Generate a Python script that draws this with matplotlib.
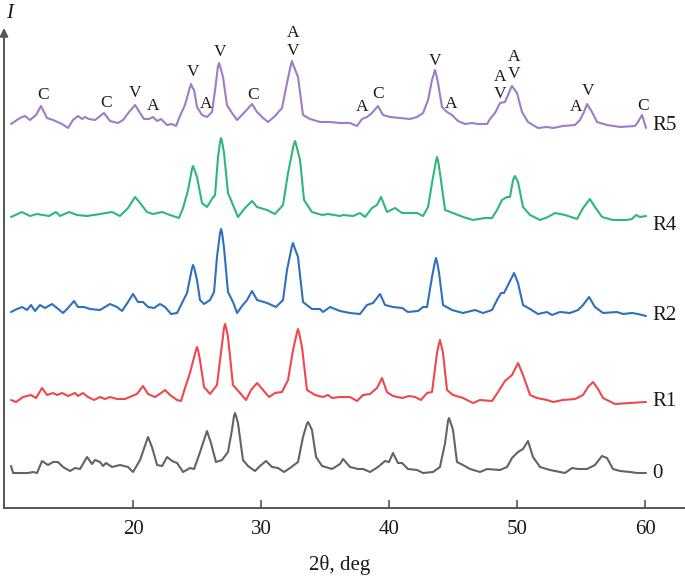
import matplotlib
matplotlib.use("Agg")
import matplotlib.pyplot as plt

# ---- data: 2theta (deg) and intensity (arb. units, offset stacks as drawn) ----
r5_x = [10.47,11.17,11.56,11.95,12.42,12.81,13.28,13.75,14.45,14.92,15.31,15.70,16.02,16.25,16.56,17.03,17.34,17.73,18.20,18.83,
        19.22,19.69,20.16,20.55,20.86,21.25,21.56,21.88,22.19,22.66,23.05,23.36,23.67,24.06,24.45,24.53,24.62,24.77,25.00,25.39,
        25.78,26.17,26.41,26.63,26.72,26.82,27.03,27.34,27.73,28.13,28.59,29.30,29.69,30.16,30.55,31.09,31.64,32.03,32.33,32.42,
        32.52,32.89,33.28,33.83,34.61,35.39,36.17,36.95,37.50,37.89,38.28,38.67,39.14,39.53,40.08,40.86,41.64,42.19,42.66,43.05,
        43.36,43.50,43.59,43.68,43.83,44.14,44.53,44.92,45.39,45.94,46.48,46.95,47.66,47.89,48.28,48.67,49.06,49.30,49.52,49.61,
        49.72,50.00,50.39,50.86,51.64,52.34,52.81,53.59,54.53,54.92,55.23,55.47,55.86,56.25,57.03,58.05,59.22,59.45,59.77,60.08]
r5_y = [384,390,392,388,393,402,390,388,384,380,388,392,389,391,389,388,391,395,387,385,
        388,396,403,395,389,389,391,387,389,383,384,382,392,403,421,424,421,418,401,393,
        391,396,418,441,445,441,431,403,395,388,394,404,396,390,386,392,400,425,443,447,
        443,431,393,389,386,386,385,385,382,389,391,395,402,393,391,390,389,391,395,408,
        428,434,438,434,425,401,396,393,387,384,385,384,384,389,395,405,406,413,420,422,
        420,415,396,386,380,381,380,382,383,388,396,404,396,386,383,381,382,386,393,380]

r4_x = [10.47,11.33,11.95,12.50,13.44,13.98,14.30,15.00,15.63,16.41,17.42,18.36,18.98,19.61,20.16,20.55,21.09,21.56,22.27,22.89,
        23.59,23.91,24.30,24.61,24.69,24.78,25.00,25.39,25.78,26.17,26.41,26.64,26.80,26.88,26.96,27.11,27.42,27.81,28.20,28.75,
        29.30,29.69,30.47,31.09,31.72,32.11,32.55,32.66,32.77,33.05,33.36,33.98,34.77,35.23,36.17,36.41,37.19,37.73,38.13,38.67,
        39.06,39.38,39.84,40.47,41.02,41.64,42.19,42.66,43.05,43.36,43.67,43.75,43.84,43.98,44.38,45.00,45.78,46.56,47.50,48.05,
        48.44,48.83,49.22,49.45,49.69,49.84,50.08,50.47,51.02,51.80,52.42,52.97,53.75,54.69,55.16,55.70,56.09,56.64,57.50,58.59,
        58.98,59.30,59.61,60.08]
r4_y = [291,296,292,294,292,296,292,296,293,292,294,296,292,300,311,305,296,294,296,293,
        290,300,318,339,342,339,331,305,301,309,313,351,366,370,366,355,315,303,291,300,
        307,301,298,294,303,335,363,367,362,348,308,296,293,294,292,293,292,295,291,300,
        303,311,296,300,295,295,295,292,301,325,347,351,347,335,298,295,291,288,290,290,
        298,308,311,311,328,332,326,301,293,288,291,295,293,289,300,309,301,291,288,288,
        289,293,291,292]

r2_x = [10.47,10.94,11.33,11.72,12.03,12.34,12.73,13.13,13.67,14.06,14.53,14.92,15.39,15.70,16.17,16.64,17.42,18.20,18.75,19.14,
        19.61,20.00,20.39,20.78,21.17,21.64,22.11,22.50,22.97,23.44,23.83,24.22,24.61,24.69,24.78,25.00,25.23,25.55,26.02,26.33,
        26.56,26.80,26.88,26.96,27.11,27.42,27.81,28.13,28.52,28.91,29.30,29.69,30.47,31.17,31.72,32.03,32.40,32.50,32.60,32.89,
        33.28,33.98,34.61,34.84,35.39,36.17,36.95,37.73,38.28,38.75,39.30,39.69,40.31,41.02,41.48,42.27,42.66,42.97,43.36,43.59,
        43.67,43.76,43.91,44.22,44.92,45.78,46.72,47.34,48.05,48.44,48.75,48.98,49.30,49.77,50.08,50.47,51.02,51.64,52.34,52.73,
        53.36,54.14,54.77,55.16,55.63,56.09,56.72,57.81,58.28,58.98,59.45,60.08]
r2_y = [196,199,201,198,203,197,203,200,204,200,195,200,207,201,201,199,198,204,201,197,
        206,214,206,206,201,200,204,201,194,195,205,215,240,243,240,228,208,204,208,216,
        251,275,279,275,260,216,206,195,202,208,217,208,205,201,208,238,261,265,261,251,
        206,199,199,196,201,197,195,194,203,205,214,203,201,200,196,197,201,201,231,246,
        250,246,235,203,198,195,198,195,198,208,215,215,223,235,225,203,199,194,196,193,
        196,195,198,203,211,201,195,196,194,195,194,192]

r1_x = [10.47,10.86,11.41,12.03,12.42,12.89,13.28,13.75,14.06,14.45,14.92,15.47,15.70,16.09,16.48,16.95,17.42,17.81,18.20,18.75,
        19.38,19.92,20.31,20.78,21.17,21.72,22.19,22.50,22.89,23.44,23.75,24.06,24.45,24.92,25.00,25.08,25.23,25.55,26.02,26.56,
        26.80,27.11,27.19,27.28,27.42,27.81,28.36,28.83,29.22,29.69,30.16,30.63,31.09,31.64,32.11,32.50,32.80,32.89,32.98,33.20,
        33.59,34.22,34.84,35.23,35.55,36.17,36.95,37.50,37.97,38.52,39.06,39.45,39.84,40.31,41.02,41.56,42.03,42.50,42.97,43.36,
        43.75,43.90,43.98,44.06,44.22,44.53,45.00,45.78,46.56,47.11,48.05,48.52,49.06,49.61,50.08,50.47,51.02,51.56,52.34,52.81,
        53.59,54.53,55.16,55.55,55.94,56.33,56.72,57.66,58.83,60.08]
r1_y = [108,106,111,113,110,120,113,115,113,115,112,115,112,115,111,108,111,109,111,109,
        109,112,114,122,114,111,115,118,113,108,107,120,135,158,161,158,148,121,114,123,
        148,180,184,180,171,123,115,108,118,125,118,111,115,116,128,158,175,179,175,161,
        118,113,111,113,110,111,111,107,113,114,120,130,116,112,110,112,111,108,115,116,
        155,164,168,164,155,118,113,110,105,108,107,116,127,133,145,133,113,110,108,106,
        108,109,113,121,126,119,110,104,105,106]

r0_x = [10.47,10.63,11.02,11.80,12.19,12.50,12.89,13.36,13.75,14.14,14.53,15.08,15.47,15.86,16.41,16.80,17.03,17.42,17.66,17.89,
        18.36,18.98,19.61,20.00,20.55,21.17,21.48,21.88,22.27,22.66,23.05,23.44,23.91,24.45,24.77,25.16,25.78,26.09,26.48,26.95,
        27.42,27.73,27.89,27.97,28.05,28.20,28.59,28.98,29.53,29.92,30.39,30.86,31.33,31.80,32.27,32.89,33.28,33.58,33.67,33.76,
        33.98,34.30,34.77,35.55,36.17,36.41,36.95,37.58,37.97,38.52,39.14,39.69,40.00,40.31,40.70,41.02,41.48,42.19,42.66,43.44,
        43.98,44.38,44.61,44.69,44.77,45.00,45.31,45.78,46.33,47.11,47.66,48.67,49.22,49.61,50.08,50.47,50.86,51.25,51.80,52.58,
        53.75,54.30,54.77,55.47,56.09,56.64,57.03,57.50,58.05,58.83,59.38,60.08]
r0_y = [42,35,35,35,36,35,47,43,46,46,41,37,40,39,51,44,48,46,42,45,
        41,43,41,36,48,71,61,43,42,51,47,45,36,40,39,53,77,65,46,48,
        56,78,92,95,92,85,48,42,37,42,47,41,40,36,40,46,71,84,86,84,
        78,51,42,39,44,49,41,39,39,36,41,47,46,55,45,45,39,38,35,36,
        41,65,87,90,87,78,46,43,39,36,39,38,41,50,56,59,67,51,41,38,
        35,40,39,39,43,52,50,39,37,36,35,35]

series_names = ["R5", "R4", "R2", "R1", "0"]
series_colors = ["#9b7dc9", "#2db87a", "#2f6fbf", "#f0474b", "#636363"]
label_y = [382, 283, 193, 106, 35]

# phase marks on R5: (letter, 2theta, height)
phase_text = ["C", "C", "V", "A", "V", "A", "V", "C", "A", "V", "A", "C", "V", "A", "A", "V", "A", "V", "A", "V", "C"]
phase_x = [12.97, 17.89, 20.16, 21.56, 24.69, 25.70, 26.80, 29.38, 32.50, 32.50, 37.89, 39.14, 43.59, 44.84,
           48.67, 48.67, 49.77, 49.77, 54.61, 55.55, 59.84]
phase_y = [413, 405, 415, 402, 436, 404, 456, 413, 475, 457, 401, 414, 447, 404,
           431, 414, 451, 434, 401, 417, 402]

xticks = [20, 30, 40, 50, 60]

# ---- figure ----
plt.rcParams['font.family'] = ['Liberation Serif', 'DejaVu Serif']
fig = plt.figure(figsize=(6.85, 5.79), dpi=100)
ax = fig.add_axes([4/685, 71/579, 681/685, 480/579])

xs = [r5_x, r4_x, r2_x, r1_x, r0_x]
ys = [r5_y, r4_y, r2_y, r1_y, r0_y]
for x, y, c in zip(xs, ys, series_colors):
    ax.plot(x, y, color=c, lw=1.5, solid_joinstyle='round', solid_capstyle='round')

for name, ly in zip(series_names, label_y):
    ax.text(60.6, ly, name, fontsize=15, va='center', ha='left', color='#1a1a1a')

for t, px, py in zip(phase_text, phase_x, phase_y):
    ax.text(px, py, t, fontsize=12.5, ha='center', va='center', color='#1a1a1a')

ax.set_xlim(9.92, 63.125)
ax.set_ylim(0, 480)
ax.set_xticks(xticks)
ax.set_xticklabels([str(v) for v in xticks])
ax.set_yticks([])
ax.tick_params(axis='x', direction='in', length=6, width=1.2, color='#555555',
               labelsize=15, pad=9, labelcolor='#1a1a1a')
for s in ['top', 'right', 'left']:
    ax.spines[s].set_visible(False)
ax.spines['bottom'].set_color('#555555')
ax.spines['bottom'].set_linewidth(1.4)

ax.annotate('', xy=(0, 1.0), xytext=(0, 0), xycoords='axes fraction',
            arrowprops=dict(arrowstyle='-|>', color='#555555', lw=1.4,
                            mutation_scale=12, shrinkA=0, shrinkB=0))

fig.text(340/685, 1 - 565/579, "2θ, deg", fontsize=15, ha='center', va='center', color='#1a1a1a')
fig.text(10/685, 1 - 13/579, "I", fontsize=15, style='italic', ha='center', va='center', color='#1a1a1a')

fig.savefig("out.png", dpi=100)
